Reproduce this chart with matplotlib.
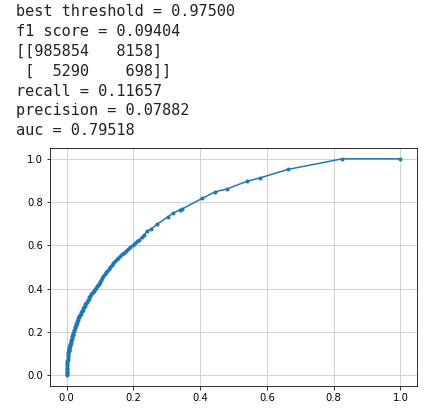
import matplotlib
matplotlib.use('Agg')
import matplotlib.pyplot as plt

# printed metrics shown above the plot
output_lines = [
    'best threshold = 0.97500',
    'f1 score = 0.09404',
    '[[985854   8158]',
    ' [  5290    698]]',
    'recall = 0.11657',
    'precision = 0.07882',
    'auc = 0.79518',
]

# ROC curve points (dense near the origin)
fpr = [0.0, 0.0, 0.0, 0.0003, 0.0005, 0.0008, 0.001, 0.0013, 0.0015, 0.0018,
       0.002, 0.0025, 0.003, 0.0035, 0.004, 0.0045, 0.005, 0.0055, 0.006, 0.0065,
       0.007, 0.0075, 0.008, 0.009, 0.010, 0.011, 0.012, 0.013, 0.014, 0.015,
       0.016, 0.017, 0.018, 0.019, 0.020, 0.0215, 0.023, 0.0245, 0.026, 0.0275,
       0.029, 0.0305, 0.032, 0.0335, 0.035, 0.0365, 0.038, 0.040, 0.042, 0.044,
       0.046, 0.048, 0.050, 0.052, 0.054, 0.056, 0.058, 0.0605, 0.063, 0.0655,
       0.068, 0.0705, 0.073, 0.0755, 0.078, 0.081, 0.084, 0.087, 0.090, 0.093,
       0.096, 0.0995, 0.103, 0.1065, 0.110, 0.114, 0.118, 0.122, 0.126, 0.130,
       0.135, 0.140, 0.145, 0.150, 0.155, 0.160, 0.165, 0.172, 0.178, 0.184,
       0.190, 0.198, 0.205, 0.212, 0.218, 0.225, 0.232, 0.240, 0.254, 0.270,
       0.303, 0.318, 0.340, 0.347, 0.407, 0.444, 0.481, 0.540, 0.580, 0.663,
       0.826, 1.0]
tpr = [0.0, 0.005, 0.01, 0.015, 0.02, 0.027, 0.035, 0.042, 0.05, 0.057,
       0.065, 0.072, 0.08, 0.088, 0.095, 0.1, 0.105, 0.11, 0.115, 0.118,
       0.122, 0.126, 0.13, 0.135, 0.14, 0.145, 0.15, 0.156, 0.162, 0.168,
       0.175, 0.181, 0.187, 0.192, 0.197, 0.203, 0.21, 0.218, 0.225, 0.231,
       0.237, 0.243, 0.25, 0.256, 0.262, 0.267, 0.273, 0.279, 0.285, 0.291,
       0.297, 0.303, 0.31, 0.316, 0.322, 0.327, 0.333, 0.34, 0.347, 0.353,
       0.36, 0.366, 0.373, 0.379, 0.385, 0.391, 0.398, 0.404, 0.41, 0.416,
       0.422, 0.431, 0.44, 0.449, 0.458, 0.466, 0.475, 0.482, 0.49, 0.5,
       0.51, 0.518, 0.527, 0.535, 0.543, 0.55, 0.558, 0.567, 0.575, 0.583,
       0.592, 0.601, 0.61, 0.618, 0.627, 0.637, 0.647, 0.665, 0.677, 0.697,
       0.731, 0.748, 0.765, 0.769, 0.818, 0.847, 0.861, 0.896, 0.912, 0.951,
       1.0, 1.0]

W, H = 425, 417
fig = plt.figure(figsize=(W / 72, H / 72), dpi=72)

# the text output, one line at a time (baselines in pixels from the top)
baselines = [16, 36, 56, 76, 96, 115, 135]
for line, yb in zip(output_lines, baselines):
    fig.text(16 / W, 1 - yb / H, line, family='DejaVu Sans Mono',
             fontsize=15.3, color='#222222', va='baseline', ha='left')

ax = fig.add_axes([50 / W, 31 / H, 367 / W, 238 / H])
ax.plot(fpr, tpr, marker='.', color='#1f77b4')
ax.grid(True, color='#c8c8c8')
ax.set_xticks([0.0, 0.2, 0.4, 0.6, 0.8, 1.0])
ax.set_yticks([0.0, 0.2, 0.4, 0.6, 0.8, 1.0])

plt.savefig('out.png', dpi=72)
